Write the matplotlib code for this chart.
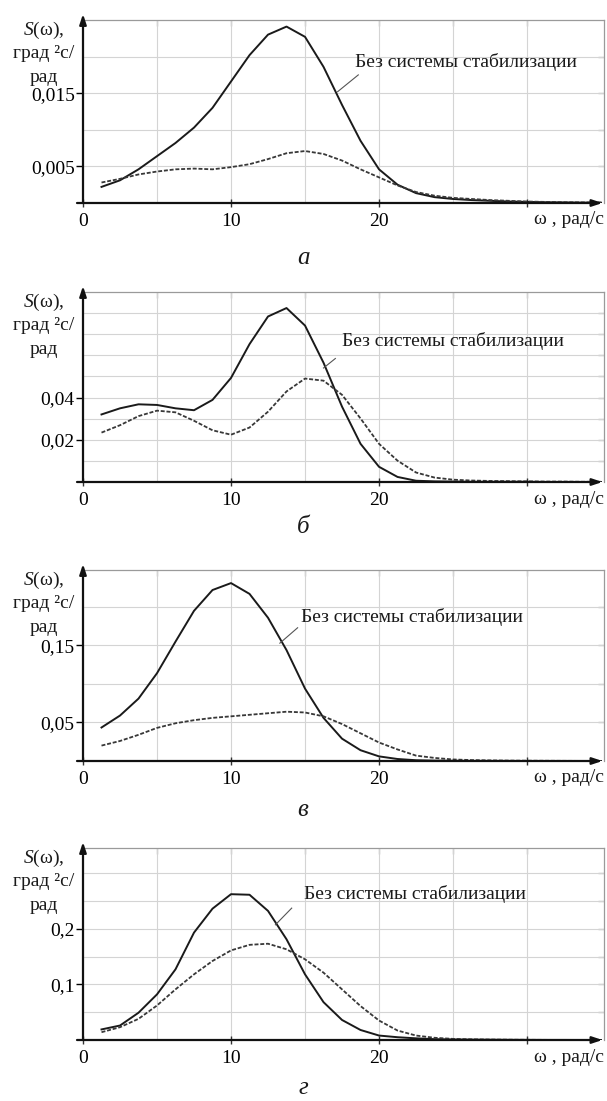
import matplotlib
matplotlib.use("Agg")
import matplotlib.pyplot as plt
from matplotlib.ticker import FixedLocator

plt.rcParams['font.family'] = ['Liberation Serif', 'DejaVu Serif']
plt.rcParams['mathtext.fontset'] = 'custom'
plt.rcParams['mathtext.rm'] = 'Liberation Serif'
plt.rcParams['mathtext.it'] = 'Liberation Serif:italic'

# frequency grid, rad/s
OMEGA = [1.25, 2.5, 3.75, 5.0, 6.25, 7.5, 8.75, 10.0, 11.25, 12.5, 13.75, 15.0,
         16.25, 17.5, 18.75, 20.0, 21.25, 22.5, 23.75, 25.0, 26.25, 27.5, 28.75,
         30.0, 31.25, 32.5, 33.75, 35.0]

# panel а
A_SOLID = [0.0022, 0.0031, 0.0046, 0.0064, 0.0082, 0.0103, 0.0130, 0.0166, 0.0202,
           0.0230, 0.0241, 0.0227, 0.0186, 0.0134, 0.0085, 0.0046, 0.0025, 0.00135,
           0.0008, 0.00055, 0.0004, 0.0003, 0.0002, 0.00015, 0.0001, 0.00008,
           0.00005, 0.00004]
A_DASH = [0.0028, 0.0033, 0.0039, 0.0043, 0.0046, 0.0047, 0.0046, 0.0049, 0.0053,
          0.0060, 0.0068, 0.0071, 0.0067, 0.0058, 0.0046, 0.0035, 0.0024, 0.0015,
          0.0010, 0.0007, 0.00055, 0.0004, 0.0003, 0.0002, 0.00015, 0.0001,
          0.00008, 0.00006]
# panel б
B_SOLID = [0.0320, 0.0349, 0.0368, 0.0365, 0.0349, 0.0340, 0.0389, 0.0493, 0.0653,
           0.0784, 0.0824, 0.0741, 0.0565, 0.0357, 0.0181, 0.0072, 0.0024, 0.0006,
           0.0003, 0.0002, 0.0001, 0.0001, 0.0001, 0.0001, 0.0, 0.0, 0.0, 0.0]
B_DASH = [0.0234, 0.0269, 0.0312, 0.0338, 0.0330, 0.0290, 0.0245, 0.0224, 0.0258,
          0.0333, 0.0429, 0.0490, 0.0480, 0.0413, 0.0301, 0.0181, 0.0101, 0.0045,
          0.0021, 0.0011, 0.0007, 0.0005, 0.0004, 0.0003, 0.0002, 0.0002, 0.0001,
          0.0001]
# panel в
C_SOLID = [0.0435, 0.059, 0.081, 0.114, 0.155, 0.195, 0.222, 0.231, 0.217, 0.186,
           0.144, 0.094, 0.056, 0.029, 0.014, 0.006, 0.0026, 0.001, 0.0005, 0.0003,
           0.0002, 0.0001, 0.0001, 0.0, 0.0, 0.0, 0.0, 0.0]
C_DASH = [0.020, 0.026, 0.034, 0.043, 0.049, 0.053, 0.056, 0.058, 0.060, 0.062,
          0.064, 0.063, 0.058, 0.048, 0.036, 0.024, 0.015, 0.007, 0.004, 0.002,
          0.0012, 0.0008, 0.0005, 0.0004, 0.0003, 0.0002, 0.0001, 0.0001]
# panel г
D_SOLID = [0.019, 0.026, 0.049, 0.082, 0.127, 0.193, 0.236, 0.262, 0.261, 0.232,
           0.181, 0.118, 0.068, 0.036, 0.018, 0.008, 0.005, 0.003, 0.0015, 0.001,
           0.0007, 0.0005, 0.0003, 0.0002, 0.0001, 0.0001, 0.0, 0.0]
D_DASH = [0.014, 0.023, 0.038, 0.062, 0.091, 0.118, 0.142, 0.161, 0.171, 0.173,
          0.163, 0.145, 0.121, 0.091, 0.061, 0.035, 0.017, 0.008, 0.004, 0.002,
          0.0012, 0.0008, 0.0005, 0.0003, 0.0002, 0.0001, 0.0001, 0.0]

LETTERS = ['а', 'б', 'в', 'г']
YTICKS = [[0.005, 0.015], [0.02, 0.04], [0.05, 0.15], [0.1, 0.2]]
YTICKLABELS = [['0,005', '0,015'], ['0,02', '0,04'], ['0,05', '0,15'], ['0,1', '0,2']]
YGRID = [[0.005, 0.01, 0.015, 0.02], [0.01 * k for k in range(1, 9)],
         [0.05, 0.1, 0.15, 0.2], [0.05 * k for k in range(1, 7)]]
XGRID = [5, 10, 15, 20, 25, 30]
YMAX = [0.025, 0.09, 0.248, 0.345]
LABEL_TEXT = "Без системы стабилизации"
# (text x, text y, leader start x, y, leader end x, y) in data units
NOTES = [(18.4, 0.0193, 18.6, 0.0175, 17.2, 0.0152),
         (17.5, 0.067, 17.05, 0.0585, 16.25, 0.054),
         (14.7, 0.187, 14.5, 0.173, 13.3, 0.153),
         (14.9, 0.262, 14.1, 0.237, 13.0, 0.207)]
SERIES = [(A_SOLID, A_DASH), (B_SOLID, B_DASH), (C_SOLID, C_DASH), (D_SOLID, D_DASH)]

W, H = 607, 1101
# axes rows in pixels: (top, bottom)
ROWS = [(20, 203), (292, 482), (570, 761), (848, 1040)]
LETTER_Y = [258, 527, 810, 1088]
LEFT, RIGHT = 83, 604

fig = plt.figure(figsize=(W / 100, H / 100), dpi=100)

for i in range(4):
    top, bot = ROWS[i]
    ax = fig.add_axes([LEFT / W, 1 - bot / H, (RIGHT - LEFT) / W, (bot - top) / H])
    solid, dash = SERIES[i]
    ax.plot(OMEGA, solid, color='#1a1a1a', lw=1.4, zorder=3)
    ax.plot(OMEGA, dash, color='#383838', lw=1.3, ls=(0, (2.2, 1.0)), zorder=3)
    ax.set_xlim(0, 35.2)
    ax.set_ylim(0, YMAX[i])

    ax.xaxis.set_major_locator(FixedLocator([0, 10, 20, 30]))
    ax.set_xticklabels(['0', '10', '20', ''])
    ax.xaxis.set_minor_locator(FixedLocator([5, 15, 25]))
    ax.yaxis.set_major_locator(FixedLocator(YTICKS[i]))
    ax.set_yticklabels(YTICKLABELS[i])
    ax.yaxis.set_minor_locator(FixedLocator(YGRID[i]))
    ax.tick_params(axis='x', which='major', direction='inout', length=6, width=1,
                   labelsize=14, pad=4, color='#333333')
    ax.tick_params(axis='y', which='major', direction='out', length=5, width=1,
                   labelsize=14, pad=1)
    ax.tick_params(which='minor', length=0)
    ax.grid(True, which='both', color='#d4d4d4', lw=0.8)
    ax.set_axisbelow(True)

    # small inward ticks along the grey top and right frame
    sx = ax.secondary_xaxis('top')
    sx.set_xticks(XGRID)
    sx.tick_params(direction='in', length=4, width=0.9, color='#8a8a8a', labeltop=False)
    sx.spines['top'].set_visible(False)
    sy = ax.secondary_yaxis('right')
    sy.set_yticks(YGRID[i])
    sy.tick_params(direction='in', length=4, width=0.9, color='#8a8a8a', labelright=False)
    sy.spines['right'].set_visible(False)

    for s in ('top', 'right'):
        ax.spines[s].set_color('#9a9a9a')
        ax.spines[s].set_linewidth(0.9)
    ax.spines['left'].set_visible(False)
    ax.spines['bottom'].set_visible(False)
    arrow = dict(arrowstyle='-|>,head_length=0.6,head_width=0.2', color='#111111',
                 lw=1.6, shrinkA=0, shrinkB=0)
    ax.annotate('', xy=(0, 1 + 6 / (bot - top)), xytext=(0, 0), xycoords='axes fraction',
                arrowprops=arrow, annotation_clip=False)
    ax.annotate('', xy=(0.997, 0), xytext=(-6 / (RIGHT - LEFT), 0), xycoords='axes fraction',
                arrowprops=arrow, annotation_clip=False)

    tx, ty, lx0, ly0, lx1, ly1 = NOTES[i]
    ax.text(tx, ty, LABEL_TEXT, fontsize=14, ha='left', va='center', color='#1a1a1a')
    ax.plot([lx0, lx1], [ly0, ly1], color='#555555', lw=0.8, zorder=4)

    ax.text(1.0, -17 / (bot - top), 'ω , рад/с', transform=ax.transAxes, fontsize=14,
            ha='right', va='center', color='#1a1a1a')

    # y-axis caption
    for dy, s in ((10, '$S$(ω),'), (34, 'град ²с/'), (57, 'рад')):
        fig.text(44 / W, 1 - (top + dy) / H, s, fontsize=14, ha='center', va='center',
                 color='#1a1a1a')

    fig.text(303 / W, 1 - LETTER_Y[i] / H, LETTERS[i], fontsize=18, style='italic',
             ha='center', va='center', color='#1a1a1a')

fig.savefig('out.png', dpi=100)
